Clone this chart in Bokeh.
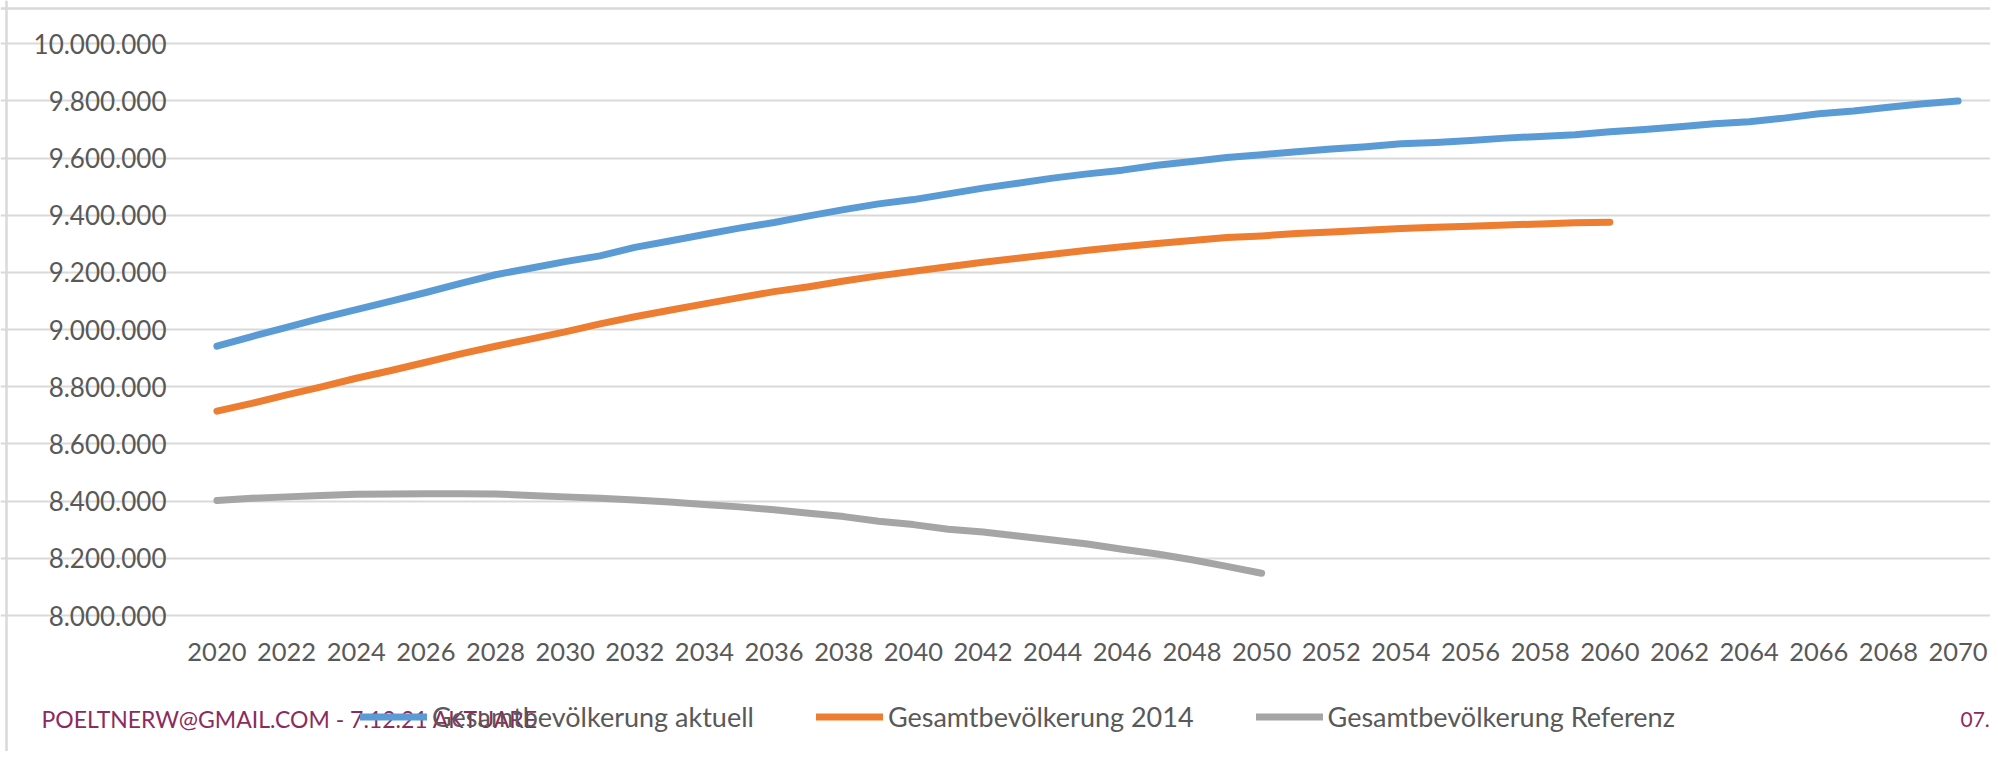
from bokeh.plotting import figure
from bokeh.models import Legend, LegendItem, Label, FixedTicker, Range1d, Span
from bokeh.embed import file_html
from bokeh.resources import INLINE

years = list(range(2020, 2071))

aktuell = [8.942, 8.976, 9.008, 9.040, 9.070, 9.100, 9.130, 9.162, 9.192, 9.215,
           9.238, 9.258, 9.288, 9.310, 9.333, 9.355, 9.375, 9.398, 9.420, 9.440,
           9.455, 9.475, 9.495, 9.512, 9.530, 9.545, 9.558, 9.575, 9.588, 9.602,
           9.612, 9.622, 9.632, 9.640, 9.650, 9.655, 9.662, 9.670, 9.676, 9.682,
           9.692, 9.700, 9.710, 9.720, 9.727, 9.740, 9.755, 9.765, 9.778, 9.790,
           9.800]
y2014 = [8.715, 8.742, 8.772, 8.800, 8.830, 8.857, 8.886, 8.915, 8.942, 8.967,
         8.992, 9.020, 9.045, 9.068, 9.090, 9.112, 9.133, 9.150, 9.170, 9.188,
         9.204, 9.220, 9.236, 9.250, 9.264, 9.278, 9.290, 9.301, 9.312, 9.322,
         9.328, 9.336, 9.342, 9.348, 9.354, 9.358, 9.362, 9.366, 9.370, 9.374,
         9.376]
referenz = [8.402, 8.410, 8.415, 8.420, 8.424, 8.425, 8.426, 8.426, 8.425, 8.420,
            8.415, 8.410, 8.404, 8.397, 8.388, 8.380, 8.370, 8.358, 8.346, 8.330,
            8.318, 8.302, 8.292, 8.278, 8.264, 8.250, 8.232, 8.215, 8.195, 8.172,
            8.148]

series_names = ["Gesamtbevölkerung aktuell", "Gesamtbevölkerung 2014", "Gesamtbevölkerung Referenz"]
y_ticks = [8000000 + 200000 * i for i in range(11)]
x_ticks = list(range(2020, 2071, 2))
footer_left = "POELTNERW@GMAIL.COM - 7.12.21 AKTUARE"
footer_right = "07."

colors = ["#5B9BD5", "#ED7D31", "#A5A5A5"]
FONT = "Lato"

# layout (pixels): the frame fills the whole canvas; axes are pinned inside it
W, H = 1990, 751
PX_LEFT, PX_RIGHT = 199.0, 1975.0      # plot area left/right
PX_TOP, PX_BOTTOM = 43.3, 615.0        # 10.000.000 and 8.000.000 lines
x0, x1 = years[0] - 0.5, years[-1] + 0.5
y0, y1 = y_ticks[0], y_ticks[-1]
sx = (PX_RIGHT - PX_LEFT) / (x1 - x0)
sy = (PX_BOTTOM - PX_TOP) / (y1 - y0)
xr = Range1d(x0 - PX_LEFT / sx, x1 + (W - PX_RIGHT) / sx)
yr = Range1d(y0 - (H - PX_BOTTOM) / sy, y1 + PX_TOP / sy)

p = figure(width=W, height=H, output_backend="svg", toolbar_location=None,
           x_range=xr, y_range=yr, min_border=0)
p.background_fill_color = "white"
p.border_fill_color = "white"
p.outline_line_color = None

renderers = []
for name, vals, c in zip(series_names, [aktuell, y2014, referenz], colors):
    xs = years[:len(vals)]
    ys = [v * 1e6 for v in vals]
    r = p.line(xs, ys, line_color=c, line_width=7, line_cap="round", line_join="round")
    renderers.append((name, r))

# axes
p.yaxis.ticker = FixedTicker(ticks=y_ticks)
p.yaxis.major_label_overrides = {t: f"{t:,}".replace(",", ".") for t in y_ticks}
p.xaxis.ticker = FixedTicker(ticks=x_ticks)
p.xaxis.fixed_location = y0
p.yaxis.fixed_location = x0
for ax in (p.xaxis, p.yaxis):
    ax.axis_line_color = None
    ax.major_tick_line_color = None
    ax.minor_tick_line_color = None
    ax.major_tick_out = 0
    ax.major_tick_in = 0
    ax.major_label_text_font = FONT
    ax.major_label_text_color = "#595959"
p.xaxis.major_label_text_font_size = "25.5px"
p.yaxis.major_label_text_font_size = "26px"
p.yaxis.major_label_standoff = 33
p.xaxis.major_label_standoff = 27

p.xgrid.grid_line_color = None
p.ygrid.grid_line_color = "#D9D9D9"
p.ygrid.grid_line_width = 2
p.ygrid.bounds = (x0, x1)

# chart area border (left and top)
p.add_layout(Span(location=6, location_units="screen", dimension="height",
                  line_color="#D9D9D9", line_width=2.5))
p.add_layout(Span(location=H - 8, location_units="screen", dimension="width",
                  line_color="#D9D9D9", line_width=2.5))

legend = Legend(items=[LegendItem(label=n, renderers=[r]) for n, r in renderers],
                orientation="horizontal", location=(360, 18),
                border_line_color=None, background_fill_alpha=0,
                padding=0, margin=0, glyph_width=67, glyph_height=31,
                label_standoff=5, spacing=62, label_height=31,
                label_text_font=FONT, label_text_font_size="27px",
                label_text_color="#595959")
p.add_layout(legend, "center")

p.add_layout(Label(x=41, y=33, x_units="screen", y_units="screen", text=footer_left,
                   text_font=FONT, text_font_size="23px", text_color="#8C2B5E",
                   text_baseline="alphabetic"))
p.add_layout(Label(x=1960, y=32, x_units="screen", y_units="screen", text=footer_right,
                   text_font=FONT, text_font_size="21px", text_color="#8C2B5E",
                   text_baseline="alphabetic"))

open("out.html", "w").write(file_html(p, INLINE))
